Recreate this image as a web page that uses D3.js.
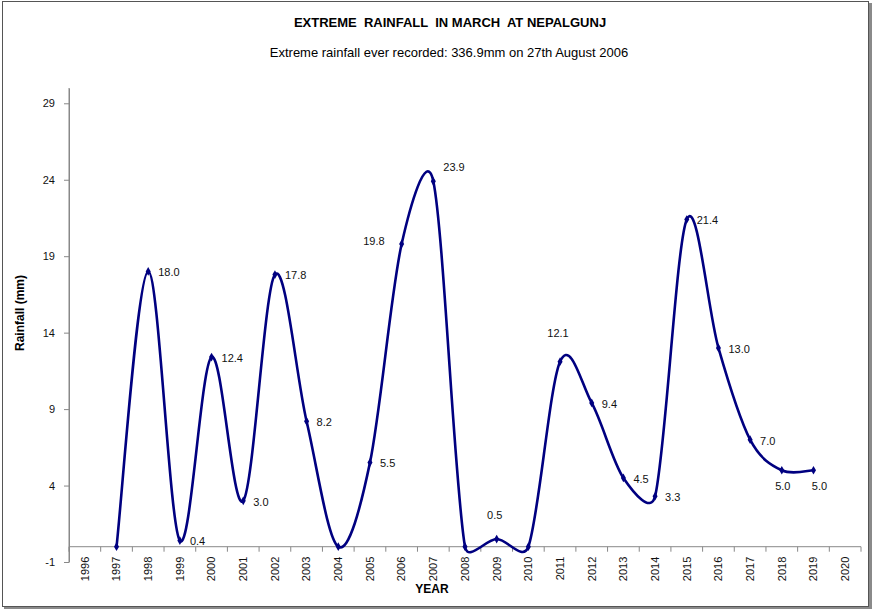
<!DOCTYPE html>
<html>
<head>
<meta charset="utf-8">
<script src="https://cdn.jsdelivr.net/npm/d3@7"></script>
<style>
  body { margin: 0; background: #fff; }
  svg text { font-family: "Liberation Sans", Arial, sans-serif; }
</style>
</head>
<body>
<div id="chart"></div>
<script>
/////////////////////////////////////
///      DATA
/////////////////////////////////////
var years = [1996,1997,1998,1999,2000,2001,2002,2003,2004,2005,2006,2007,2008,
             2009,2010,2011,2012,2013,2014,2015,2016,2017,2018,2019,2020];
// rainfall (mm) for 1997..2019, blanks plotted as zero
var rainYears = [1997,1998,1999,2000,2001,2002,2003,2004,2005,2006,2007,2008,
                 2009,2010,2011,2012,2013,2014,2015,2016,2017,2018,2019];
var rainfall = [0,18.0,0.4,12.4,3.0,17.8,8.2,0,5.5,19.8,23.9,0,
                0.5,0,12.1,9.4,4.5,3.3,21.4,13.0,7.0,5.0,5.0];
var yTicks = [-1,4,9,14,19,24,29];

// where the data labels sit (default is right of the point)
var labelSide = {2006:"left", 2007:"upright", 2009:"above", 2011:"above", 2018:"below", 2019:"below"};

/////////////////////////////////////
///      SMOOTH LINE (spreadsheet style bezier)
/////////////////////////////////////
function dist(a,b){ return Math.sqrt((a[0]-b[0])*(a[0]-b[0]) + (a[1]-b[1])*(a[1]-b[1])); }

function smoothPath(p){
  var path = d3.path();
  path.moveTo(p[0][0], p[0][1]);
  for (var i = 0; i < p.length-1; i++){
    var p0 = p[Math.max(i-1,0)], p1 = p[i], p2 = p[i+1], p3 = p[Math.min(i+2,p.length-1)];
    var d02 = dist(p0,p2), d12 = dist(p1,p2), d13 = dist(p1,p3);
    var f1 = 1/6, f2 = 1/6;
    if (d02/6 >= d12/2) f1 = d02 > 0 ? d12/d02/2 : 0;
    if (d13/6 >= d12/2) f2 = d13 > 0 ? d12/d13/2 : 0;
    path.bezierCurveTo(
      p1[0] + (p2[0]-p0[0])*f1, p1[1] + (p2[1]-p0[1])*f1,
      p2[0] - (p3[0]-p1[0])*f2, p2[1] - (p3[1]-p1[1])*f2,
      p2[0], p2[1]);
  }
  return path.toString();
}

/////////////////////////////////////
///      CHART
/////////////////////////////////////
var W = 872, H = 610;
var svg = d3.select("#chart").append("svg")
  .attr("width", W)
  .attr("height", H);

// frame
svg.append("rect").attr("x",0).attr("y",0).attr("width",W).attr("height",H).attr("fill","#fff");
svg.append("rect")
  .attr("x",2.5).attr("y",1.5).attr("width",866).attr("height",605)
  .attr("fill","none").attr("stroke","#555").attr("stroke-width",1);
svg.append("rect").attr("x",869).attr("y",3).attr("width",3).attr("height",606).attr("fill","#8a8a8a");
svg.append("rect").attr("x",4).attr("y",607).attr("width",868).attr("height",2).attr("fill","#8a8a8a");

var x = d3.scaleBand().domain(years).range([69, 861]);
var y = d3.scaleLinear().domain([-1, 30]).range([562, 88]);

// titles
svg.append("text")
  .attr("x",450).attr("y",27)
  .attr("text-anchor","middle")
  .style("white-space","pre")
  .attr("font-size",13).attr("font-weight","bold")
  .text("EXTREME  RAINFALL  IN MARCH  AT NEPALGUNJ");
svg.append("text")
  .attr("x",449).attr("y",57)
  .attr("text-anchor","middle")
  .attr("font-size",13)
  .text("Extreme rainfall ever recorded: 336.9mm on 27th August 2006");

// y axis
var yAxis = svg.append("g")
  .attr("transform","translate(69,0)")
  .call(d3.axisLeft(y).tickValues(yTicks).tickFormat(function(d){ return String(d); })
        .tickSize(5).tickPadding(9).tickSizeOuter(0));
yAxis.select(".domain").attr("stroke","#888");
yAxis.selectAll(".tick line").attr("stroke","#888");
yAxis.selectAll(".tick text").attr("font-size",11).attr("fill","#111")
  .style("font-family","'Liberation Sans', Arial, sans-serif");
yAxis.append("line").attr("x1",0).attr("x2",0).attr("y1",88).attr("y2",y(-1)).attr("stroke","#888");

svg.append("text")
  .attr("transform","translate(24,313) rotate(-90)")
  .attr("text-anchor","middle")
  .attr("font-size",12).attr("font-weight","bold")
  .text("Rainfall (mm)");

// x axis on the zero line
var xg = svg.append("g").attr("transform","translate(0," + y(0) + ")");
xg.append("line")
  .attr("x1",x.range()[0]).attr("x2",x.range()[1])
  .attr("stroke","#888");
xg.selectAll(".xtick")
  .data(years.concat(["end"]))
  .enter().append("line")
  .attr("class","xtick")
  .attr("x1",function(d){ return d === "end" ? x.range()[1] : x(d); })
  .attr("x2",function(d){ return d === "end" ? x.range()[1] : x(d); })
  .attr("y1",0).attr("y2",5)
  .attr("stroke","#888");
xg.selectAll(".xlab")
  .data(years)
  .enter().append("text")
  .attr("class","xlab")
  .attr("transform",function(d){ return "translate(" + (x(d) + x.bandwidth()/2) + ",10) rotate(-90)"; })
  .attr("text-anchor","end")
  .attr("dy","0.35em")
  .attr("font-size",11).attr("fill","#111")
  .text(function(d){ return d; });

svg.append("text")
  .attr("x",432).attr("y",593)
  .attr("text-anchor","middle")
  .attr("font-size",12).attr("font-weight","bold")
  .text("YEAR");

// smoothed line
var pts = rainYears.map(function(yr,i){ return {year: yr, v: rainfall[i]}; });
var cx = function(d){ return x(d.year) + x.bandwidth()/2; };

svg.append("path")
  .attr("d", smoothPath(pts.map(function(d){ return [cx(d), y(d.v)]; })))
  .attr("fill","none")
  .attr("stroke","#000080")
  .attr("stroke-width",2.6)
  .attr("stroke-linejoin","round");

svg.selectAll(".marker")
  .data(pts)
  .enter().append("path")
  .attr("class","marker")
  .attr("transform",function(d){ return "translate(" + cx(d) + "," + y(d.v) + ")"; })
  .attr("d", d3.symbol().type(d3.symbolDiamond).size(22))
  .attr("fill","#000080");

// data labels (zeros are blank cells, no label)
svg.selectAll(".dlabel")
  .data(pts.filter(function(d){ return d.v > 0; }))
  .enter().append("text")
  .attr("class","dlabel")
  .attr("font-size",11).attr("fill","#111")
  .attr("dy","0.35em")
  .attr("text-anchor",function(d){
     var s = labelSide[d.year];
     if (s === "left") return "end";
     if (s === "above" || s === "below") return "middle";
     return "start";
  })
  .attr("x",function(d){
     var s = labelSide[d.year];
     if (s === "left") return cx(d) - 17;
     if (s === "above") return cx(d) - 2;
     if (s === "below") return cx(d) + (d.year === 2019 ? 6 : 1);
     return cx(d) + 10;
  })
  .attr("y",function(d){
     var s = labelSide[d.year];
     if (s === "left") return y(d.v) - 3;
     if (s === "upright") return y(d.v) - 14;
     if (s === "above") return y(d.v) - (d.year === 2009 ? 24 : 29);
     if (s === "below") return y(d.v) + 16;
     return y(d.v) + 1;
  })
  .text(function(d){ return d.v.toFixed(1); });
</script>
</body>
</html>
